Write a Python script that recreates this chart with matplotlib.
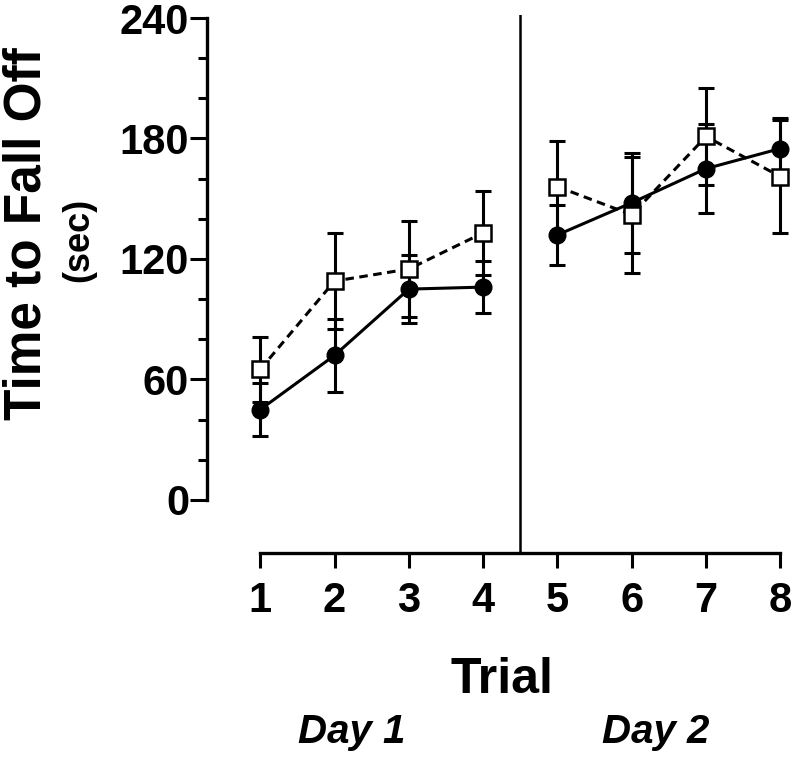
import matplotlib.pyplot as plt
from matplotlib.ticker import FixedLocator

# ----------------------------------------------------------------------
# Data
# ----------------------------------------------------------------------

trials = [1, 2, 3, 4, 5, 6, 7, 8]

filled_mean = [45, 72, 105, 106, 132, 148, 165, 175]
filled_err = [13, 18, 17, 13, 15, 25, 22, 15]

open_mean = [65, 109, 115, 133, 156, 142, 181, 161]
open_err = [16, 24, 24, 21, 23, 29, 24, 28]

y_ticks = [0, 60, 120, 180, 240]
y_minor = [20, 40, 80, 100, 140, 160, 200, 220]
day_labels = ["Day 1", "Day 2"]

# ----------------------------------------------------------------------
# Plot
# ----------------------------------------------------------------------

plt.rcParams['font.family'] = ['Liberation Sans', 'DejaVu Sans']
plt.rcParams['font.weight'] = 'bold'

fig = plt.figure(figsize=(8, 7.57), dpi=100)
ax = fig.add_axes([0.259, 0.2695, 0.729, 0.7107])

lw = 2.2

# solid line, filled circles (one segment per day)
for sl in (slice(0, 4), slice(4, 8)):
    ax.errorbar(trials[sl], filled_mean[sl], yerr=filled_err[sl],
                color='black', lw=lw, capsize=5.8, capthick=lw, marker='o',
                ms=12, mfc='black', mec='black', zorder=3)

# dashed line, open squares
for sl in (slice(0, 4), slice(4, 8)):
    ax.errorbar(trials[sl], open_mean[sl], yerr=open_err[sl], fmt='none',
                ecolor='black', elinewidth=lw, capsize=5.8, capthick=lw,
                zorder=4)
    ax.plot(trials[sl], open_mean[sl], color='black', lw=lw,
            linestyle=(0, (2.8, 1.8)), marker='s', ms=11.5, mfc='white',
            mec='black', mew=1.8, zorder=5)

# divider between the two days
ax.axvline(4.5, color='black', lw=1.8, zorder=1)

ax.set_xlim(0.2866, 8.135)
ax.set_ylim(-26.4, 241.5)

for side in ['top', 'right']:
    ax.spines[side].set_visible(False)
ax.spines['left'].set_bounds(0, 240)
ax.spines['bottom'].set_bounds(1, 8)
ax.spines['left'].set_linewidth(2.4)
ax.spines['bottom'].set_linewidth(2.4)

ax.set_xticks(trials)
ax.set_yticks(y_ticks)
ax.yaxis.set_minor_locator(FixedLocator(y_minor))
ax.tick_params(axis='y', which='major', length=12, width=lw, pad=1,
               labelsize=30)
ax.tick_params(axis='y', which='minor', length=6.5, width=lw)
ax.tick_params(axis='x', which='major', length=11, width=lw, pad=9,
               labelsize=30)
for lab in ax.get_xticklabels() + ax.get_yticklabels():
    lab.set_fontweight('bold')

# axis titles
fig.text(0.034, 0.692, "Time to Fall Off", rotation=90, ha='center',
         va='center', fontsize=37, fontweight='bold')
fig.text(0.099, 0.683, "(sec)", rotation=90, ha='center', va='center',
         fontsize=26, fontweight='bold')
fig.text(0.628, 0.0845, "Trial", ha='center', va='baseline', fontsize=36,
         fontweight='bold')
fig.text(0.44, 0.0185, day_labels[0], ha='center', va='baseline',
         fontsize=29, fontweight='bold', style='italic')
fig.text(0.819, 0.0185, day_labels[1], ha='center', va='baseline',
         fontsize=29, fontweight='bold', style='italic')

plt.savefig("out.png", dpi=100)
